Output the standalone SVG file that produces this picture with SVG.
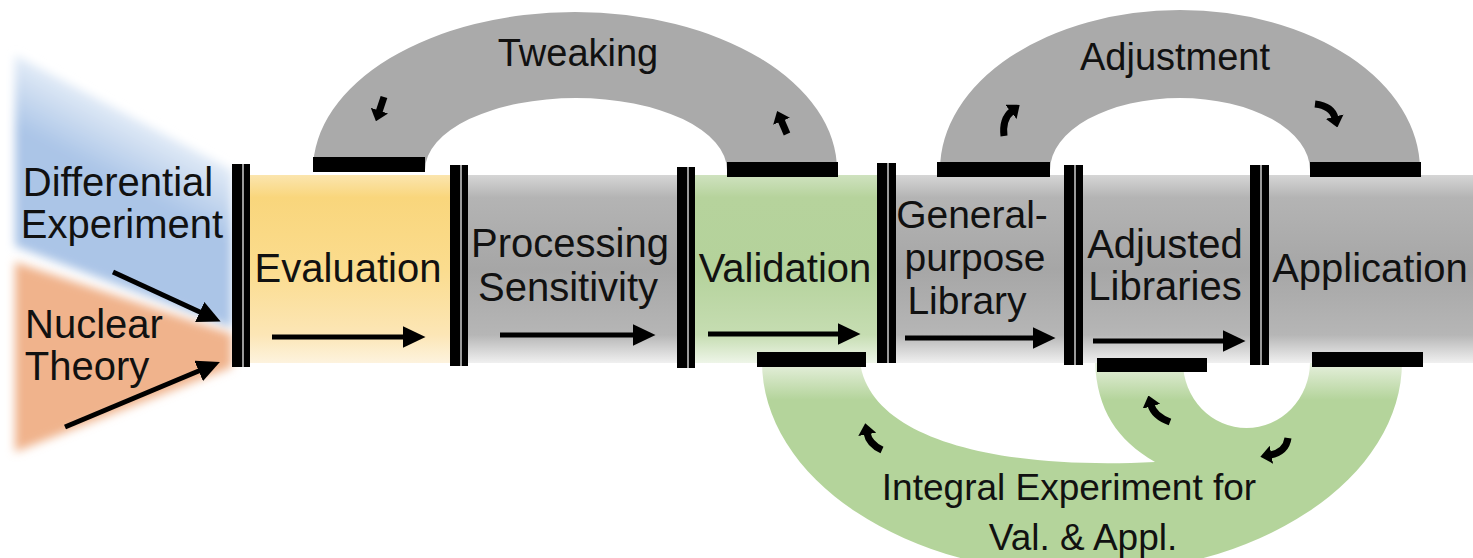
<svg xmlns="http://www.w3.org/2000/svg" width="1473" height="558" viewBox="0 0 1473 558">
  <defs>
    <linearGradient id="bandGray" x1="0" y1="0" x2="0" y2="1">
      <stop offset="0" stop-color="#d6d6d6"/>
      <stop offset="0.12" stop-color="#b4b4b4"/>
      <stop offset="0.5" stop-color="#a6a6a6"/>
      <stop offset="0.85" stop-color="#b6b6b6"/>
      <stop offset="1" stop-color="#f0f0f0"/>
    </linearGradient>
    <linearGradient id="bandYellow" x1="0" y1="0" x2="0" y2="1">
      <stop offset="0" stop-color="#fbe5ae"/>
      <stop offset="0.12" stop-color="#f9d67c"/>
      <stop offset="0.5" stop-color="#fbdc8e"/>
      <stop offset="0.85" stop-color="#fce6b6"/>
      <stop offset="1" stop-color="#fdf3de"/>
    </linearGradient>
    <linearGradient id="bandGreen" x1="0" y1="0" x2="0" y2="1">
      <stop offset="0" stop-color="#cfe2bf"/>
      <stop offset="0.12" stop-color="#b6d39c"/>
      <stop offset="0.5" stop-color="#b4d29b"/>
      <stop offset="0.85" stop-color="#c6ddb2"/>
      <stop offset="1" stop-color="#eef5e8"/>
    </linearGradient>
    <linearGradient id="ringGreen" gradientUnits="userSpaceOnUse" x1="0" y1="360" x2="0" y2="400">
      <stop offset="0" stop-color="#eaf2e2"/>
      <stop offset="1" stop-color="#b4d49b"/>
    </linearGradient>
    <linearGradient id="skyFade" gradientUnits="userSpaceOnUse" x1="150" y1="122" x2="118" y2="182">
      <stop offset="0" stop-color="#e6eef8"/>
      <stop offset="1" stop-color="#abc5e7"/>
    </linearGradient>
    <filter id="soft" x="-20%" y="-20%" width="140%" height="140%">
      <feGaussianBlur stdDeviation="5"/>
    </filter>
    <marker id="head" markerWidth="4.6" markerHeight="4.4" refX="0.5" refY="2.2" orient="auto" markerUnits="strokeWidth">
      <path d="M0,0 L4.6,2.2 L0,4.4 Z" fill="#000"/>
    </marker>
    <marker id="headBlock" markerWidth="1.6" markerHeight="2.6" refX="0.2" refY="1.3" orient="auto" markerUnits="strokeWidth">
      <path d="M0,0 L1.6,1.3 L0,2.6 Z" fill="#000"/>
    </marker>
  </defs>
  <style>
    .lbl { font-family: "Liberation Sans", Arial, sans-serif; font-size: 40px; fill: #111; text-anchor: middle; }
    .lblS { font-family: "Liberation Sans", Arial, sans-serif; font-size: 39px; fill: #111; text-anchor: middle; }
    .loopLbl { font-family: "Liberation Sans", Arial, sans-serif; font-size: 38px; fill: #111; text-anchor: middle; }
    .flow { fill: none; stroke: #000; stroke-width: 5; marker-end: url(#head); }
    .turn { fill: none; stroke: #000; stroke-width: 7; marker-end: url(#headBlock); }
    .gate { fill: #000; }
    .gateLine { fill: #9a9a9a; }
    .port { fill: #000; }
    .arch { fill: #aaaaaa; }
  </style>

  <rect width="1473" height="558" fill="#fff"/>

  <!-- sources feeding the evaluation -->
  <g id="differential-experiment">
    <polygon points="15,55 232,170 232,328 15,246" fill="url(#skyFade)" filter="url(#soft)"/>
    <text class="lbl" x="118" y="196">Differential</text>
    <text class="lbl" x="122" y="238">Experiment</text>
  </g>
  <g id="nuclear-theory">
    <polygon points="15,262 232,334 232,367 15,452" fill="#f0b38c" filter="url(#soft)"/>
    <text class="lbl" x="94" y="338">Nuclear</text>
    <text class="lbl" x="87" y="380">Theory</text>
  </g>

  <!-- feedback loops -->
  <g id="tweaking-loop">
    <path class="arch" d="M313,170 A262,158 0 0 1 837,170 L727,170 A151,72 0 0 0 425,170 Z"/>
    <text class="loopLbl" x="578" y="66">Tweaking</text>
  </g>
  <g id="adjustment-loop">
    <path class="arch" d="M940,170 A240,160 0 0 1 1420,170 L1310,170 A130,72 0 0 0 1050,170 Z"/>
    <text class="loopLbl" x="1175" y="70">Adjustment</text>
  </g>
  <g id="integral-experiment-loop">
    <path fill="url(#ringGreen)" d="M762,362 A320,212 0 0 0 1402,362 L1310,362 A63.5,66 0 0 1 1183,362 L1095,362 C1097,410 1117,440 1155,462 C1000,470 870,440 860,362 Z"/>
    <text class="loopLbl" x="1069" y="500" style="font-size:37px">Integral Experiment for</text>
    <text class="loopLbl" x="1083" y="550" style="font-size:37px">Val. &amp; Appl.</text>
  </g>

  <!-- main pipeline band -->
  <rect x="450" y="175" width="1023" height="188" fill="url(#bandGray)"/>

  <g id="evaluation">
    <rect x="250" y="175" width="200" height="188" fill="url(#bandYellow)"/>
    <text class="lbl" x="348" y="282">Evaluation</text>
  </g>
  <g id="processing-sensitivity">
    <text class="lbl" x="570" y="257">Processing</text>
    <text class="lbl" x="568" y="301">Sensitivity</text>
  </g>
  <g id="validation">
    <rect x="695" y="175" width="183" height="188" fill="url(#bandGreen)"/>
    <text class="lbl" x="785" y="282">Validation</text>
  </g>
  <g id="general-purpose-library">
    <text class="lblS" x="972" y="228">General-</text>
    <text class="lblS" x="975" y="271">purpose</text>
    <text class="lblS" x="967" y="314">Library</text>
  </g>
  <g id="adjusted-libraries">
    <text class="lbl" x="1165" y="258">Adjusted</text>
    <text class="lbl" x="1165" y="300">Libraries</text>
  </g>
  <g id="application">
    <text class="lbl" x="1370" y="282">Application</text>
  </g>

  <!-- stage gates -->
  <g id="gates">
    <rect class="gate" x="232" y="164" width="18" height="203"/>
    <rect class="gateLine" x="242" y="164" width="2" height="203"/>
    <rect class="gate" x="450" y="165" width="18" height="201"/>
    <rect class="gateLine" x="460" y="165" width="2" height="201"/>
    <rect class="gate" x="677" y="167" width="18" height="201"/>
    <rect class="gateLine" x="687" y="167" width="2" height="201"/>
    <rect class="gate" x="877" y="163" width="19" height="200"/>
    <rect class="gateLine" x="887" y="163" width="2" height="200"/>
    <rect class="gate" x="1064" y="165" width="19" height="200"/>
    <rect class="gateLine" x="1074" y="165" width="2" height="200"/>
    <rect class="gate" x="1250" y="165" width="19" height="200"/>
    <rect class="gateLine" x="1260" y="165" width="2" height="200"/>
  </g>

  <!-- loop ports -->
  <g id="ports">
    <rect class="port" x="313" y="157" width="112" height="15"/>
    <rect class="port" x="727" y="162" width="111" height="15"/>
    <rect class="port" x="937" y="162" width="113" height="15"/>
    <rect class="port" x="1310" y="162" width="111" height="15"/>
    <rect class="port" x="757" y="352" width="109" height="15"/>
    <rect class="port" x="1097" y="358" width="110" height="14"/>
    <rect class="port" x="1312" y="352" width="111" height="15"/>
  </g>

  <!-- connectors -->
  <g id="connectors">
    <line class="flow" x1="113" y1="272" x2="202" y2="313"/>
    <line class="flow" x1="65" y1="427" x2="201" y2="370"/>
    <line class="flow" x1="272" y1="337" x2="405" y2="337"/>
    <line class="flow" x1="500" y1="335" x2="635" y2="335"/>
    <line class="flow" x1="708" y1="334" x2="840" y2="334"/>
    <line class="flow" x1="905" y1="338" x2="1035" y2="338"/>
    <line class="flow" x1="1093" y1="341" x2="1225" y2="341"/>

    <path class="turn" d="M384,97 L379,112"/>
    <path class="turn" d="M787,134 L781,120"/>
    <path class="turn" d="M1004,136 Q1002,119 1012,111"/>
    <path class="turn" d="M1315,104 Q1332,106 1335,118"/>
    <path class="turn" d="M882,450 Q869,444 867,433"/>
    <path class="turn" d="M1170,422 Q1154,416 1151,405"/>
    <path class="turn" d="M1288,438 Q1286,452 1270,455"/>
  </g>
</svg>
